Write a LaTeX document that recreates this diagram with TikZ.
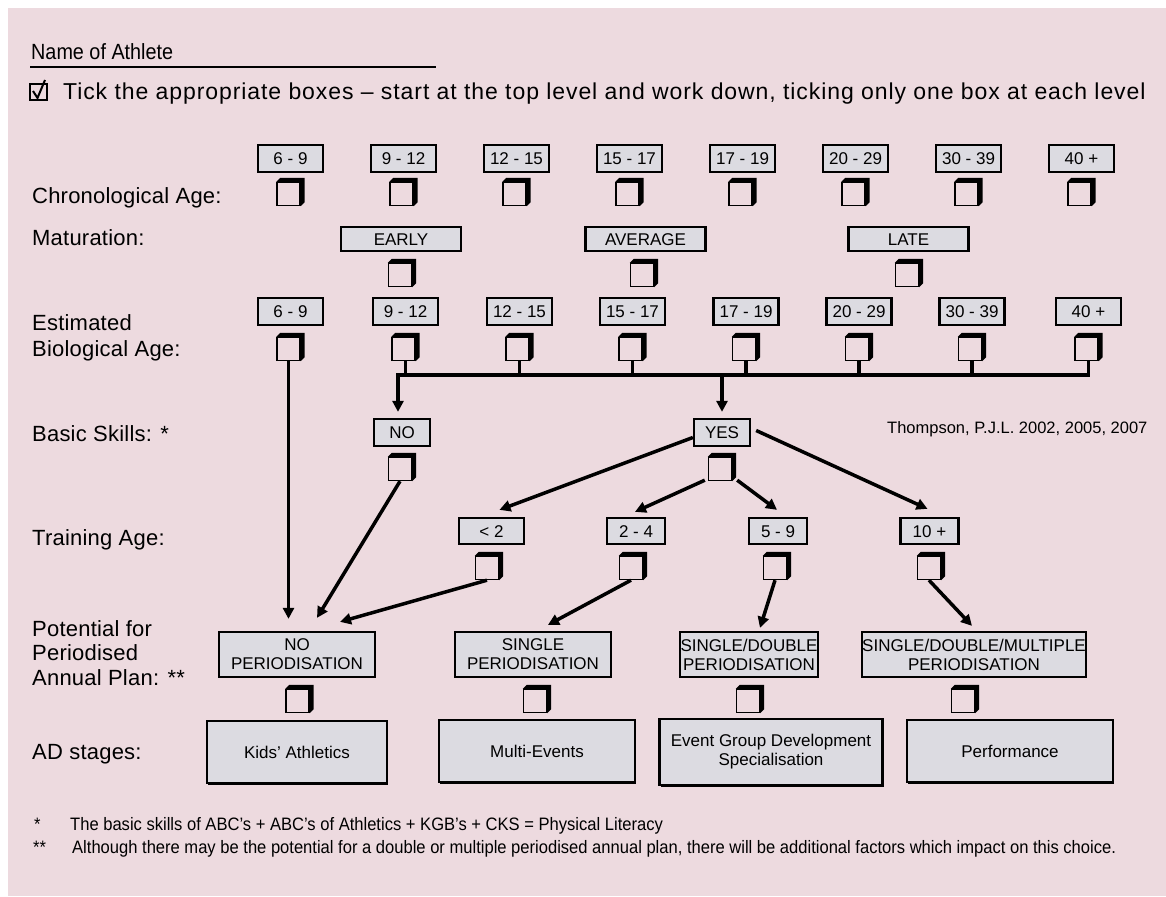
\documentclass[tikz,border=0pt]{standalone}
\usepackage{fontspec}
\setmainfont{Liberation Sans}
\newfontfamily\lblfont{Liberation Sans}[LetterSpace=1]
\newfontfamily\titlefont{Liberation Sans}[LetterSpace=4]
\newfontfamily\namefont{Liberation Sans}[FakeStretch=0.9]
\newfontfamily\fnfont{Liberation Sans}[FakeStretch=0.92]
\usetikzlibrary{arrows.meta,shadows}
\definecolor{sheet}{RGB}{237,218,223}
\definecolor{boxgrey}{RGB}{220,219,225}

\tikzset{
  lbl/.style={anchor=base west, inner sep=0, font=\lblfont\fontsize{22}{26}\selectfont},
  greybox/.style={draw, line width=2.3pt, fill=boxgrey, inner sep=0,
    font=\fontsize{17}{19}\selectfont},
  agebox/.style={greybox, minimum width=65pt, minimum height=27pt,
    text height=12.2pt, text depth=0pt},
  matbox/.style={greybox, minimum width=120pt, minimum height=24pt,
    text height=12.2pt, text depth=0pt},
  skillbox/.style={greybox, minimum width=56pt, minimum height=27pt,
    text height=12.2pt, text depth=0pt},
  trainbox/.style={greybox, minimum width=58pt, minimum height=26pt,
    text height=12.2pt, text depth=0pt},
  planbox/.style={greybox, minimum height=45pt, align=center},
  stagebox/.style={greybox, minimum height=62pt, align=center,
    drop shadow={shadow xshift=1.2pt, shadow yshift=-1.6pt, fill=black, opacity=1}},
  tickbody/.style={draw, line width=1.4pt, minimum size=23pt, inner sep=0},
  conn/.style={line width=3.5pt},
  arr/.style={conn, -{Triangle[length=11pt,width=11pt]}},
}

% a tick box: plain square with a solid shadow along its top and right
\newcommand\tickbox[2]{%
  \node[tickbody] (#1) at (#2) {};
  \fill (#1.north west) -- ++(4pt,4pt) -- ([shift={(4pt,4pt)}]#1.north east)
    -- ([shift={(4pt,4pt)}]#1.south east) -- (#1.south east)
    -- (#1.north east) -- cycle;
}

\begin{document}
\begin{tikzpicture}[x=1pt, y=-1pt]
\useasboundingbox (0,0) rectangle (1166,896);
\fill[white] (0,0) rectangle (1166,896);
\fill[sheet] (8,8) rectangle (1166,896);

% header
\node[anchor=base west, inner sep=0, font=\namefont\fontsize{22}{26}\selectfont] (name) at (31,60) {Name of Athlete};
\draw[line width=1.2pt] (30,67) -- (436,67);
\node[draw, line width=1.8pt, minimum width=17pt, minimum height=16pt, inner sep=0] (hint) at (38.5,92) {};
\draw[line width=2pt] (hint.center) ++(-5.5pt,1pt) -- ++(4.5pt,-7pt) -- ++(7.5pt,18pt);
\node[anchor=base west, inner sep=0, font=\titlefont\fontsize{23}{27}\selectfont] (title) at (63,100)
  {Tick the appropriate boxes – start at the top level and work down, ticking only one box at each level};

% row labels
\node[lbl] (l1) at (32,203) {Chronological Age:};
\node[lbl] (l2) at (32,245) {Maturation:};
\node[lbl] (l3a) at (32,330) {Estimated};
\node[lbl] (l3b) at (32,356) {Biological Age:};
\node[lbl] (l4) at (32,441) {Basic Skills: *};
\node[lbl] (l5) at (32,545) {Training Age:};
\node[lbl] (l6a) at (32,636) {Potential for};
\node[lbl] (l6b) at (32,660) {Periodised};
\node[lbl] (l6c) at (32,685) {Annual Plan: **};
\node[lbl] (l7) at (32,759) {AD stages:};

% chronological age
\foreach \x/\t [count=\i] in {290.5/6 - 9, 403.5/9 - 12, 516.5/12 - 15, 629.5/15 - 17,
    742.5/17 - 19, 855.5/20 - 29, 968.5/30 - 39, 1081.5/40 +} {
  \node[agebox] (ca\i) at (\x,158.5) {\t};
  \tickbox{cak\i}{\x-2,194}
}

% maturation
\node[matbox] (early) at (401,239) {EARLY};
\node[matbox] (average) at (645.5,239) {AVERAGE};
\node[matbox] (late) at (908.5,239) {LATE};
\tickbox{earlyk}{400,275}
\tickbox{averagek}{642,275}
\tickbox{latek}{907,275}

% estimated biological age
\foreach \x/\t [count=\i] in {290.5/6 - 9, 405.5/9 - 12, 519.5/12 - 15, 632.5/15 - 17,
    746/17 - 19, 859/20 - 29, 972/30 - 39, 1088.5/40 +} {
  \node[agebox] (ba\i) at (\x,311.5) {\t};
  \tickbox{bk\i}{\x-2,349}
}

% basic skills
\node[skillbox] (no) at (402,432.5) {NO};
\node[skillbox] (yes) at (722,432.5) {YES};
\tickbox{nok}{400,469}
\tickbox{yk}{720,469}
\node[anchor=base west, inner sep=0, font=\fontsize{16.5}{18}\selectfont] (cite) at (887,433)
  {Thompson, P.J.L. 2002, 2005, 2007};

% training age
\node[trainbox, minimum width=65pt] (t1) at (491.5,531) {< 2};
\node[trainbox] (t2) at (636,531) {2 - 4};
\node[trainbox] (t3) at (778,531) {5 - 9};
\node[trainbox] (t4) at (929.5,531) {10 +};
\tickbox{tk1}{487,568}
\tickbox{tk2}{631,568}
\tickbox{tk3}{775,568}
\tickbox{tk4}{929,568}

% periodised annual plan
\node[planbox, minimum width=156pt] (np) at (297,654.5) {NO\\PERIODISATION};
\node[planbox, minimum width=156pt] (sp) at (533,654.5) {SINGLE\\PERIODISATION};
\node[planbox, minimum width=138pt] (sdp) at (749,654.5) {SINGLE/DOUBLE\\PERIODISATION};
\node[planbox, minimum width=200pt] (sdmp) at (974,654.5) {SINGLE/DOUBLE/MULTIPLE\\PERIODISATION};
\tickbox{npk}{297.5,701}
\tickbox{spk}{535,701}
\tickbox{sdpk}{748,701}
\tickbox{sdmpk}{963,701}

% AD stages
\node[stagebox, minimum width=180pt] (kids) at (297,752) {Kids’ Athletics};
\node[stagebox, minimum width=196pt] (multi) at (537,751) {Multi-Events};
\node[stagebox, minimum width=223pt, minimum height=66pt] (egd) at (771,752) {Event Group Development\\Specialisation};
\node[stagebox, minimum width=206pt] (perf) at (1010,751) {Performance};

% biological age bus
\coordinate (busL) at (398,375);
\foreach \i in {2,...,7}
  \draw[conn] ([xshift=2pt]bk\i.south) -- ([xshift=2pt]bk\i.south |- busL);
\draw[arr] ([xshift=2pt]bk8.south) |- (busL) -- ([yshift=6pt]busL |- no.north);
\draw[arr] (yes.north |- busL) -- ([yshift=6pt]yes.north);

% from YES to training age
\draw[arr] ([yshift=-5pt]yes.west) -- ([shift={(8pt,7pt)}]t1.north);
\draw[arr] ([shift={(-3pt,1pt)}]yk.south west) -- ([shift={(-1pt,5pt)}]t2.north);
\draw[arr] ([shift={(5pt,1pt)}]yk.south east) -- ([shift={(-1pt,7pt)}]t3.north);
\draw[arr] ([shift={(5pt,2pt)}]yes.east) -- ([shift={(-2pt,8pt)}]t4.north);

% into the annual plan
\coordinate (npin) at ([yshift=12pt]np.north);
\draw[arr] (bk1.south) -- (bk1.south |- npin);
\draw[arr] (nok.south) -- ([shift={(20pt,13pt)}]np.north);
\draw[arr] (tk1.south) -- ([shift={(43pt,9pt)}]np.north);
\draw[arr] (tk2.south) -- ([shift={(15pt,6pt)}]sp.north);
\draw[arr] (tk3.south) -- ([shift={(11pt,3pt)}]sdp.north);
\draw[arr] (tk4.south) -- ([shift={(-2pt,5pt)}]sdmp.north);

% footnotes
\node[anchor=base west, inner sep=0, font=\fnfont\fontsize{18}{20}\selectfont] (fs1) at (34,830) {*};
\node[anchor=base west, inner sep=0, font=\fnfont\fontsize{18}{20}\selectfont] (fn1) at (70,830)
  {The basic skills of ABC’s + ABC’s of Athletics + KGB’s + CKS = Physical Literacy};
\node[anchor=base west, inner sep=0, font=\fnfont\fontsize{18}{20}\selectfont] (fs2) at (33,853) {**};
\node[anchor=base west, inner sep=0, font=\fnfont\fontsize{18}{20}\selectfont] (fn2) at (72,853)
  {Although there may be the potential for a double or multiple periodised annual plan, there will be additional factors which impact on this choice.};
\end{tikzpicture}
\end{document}
